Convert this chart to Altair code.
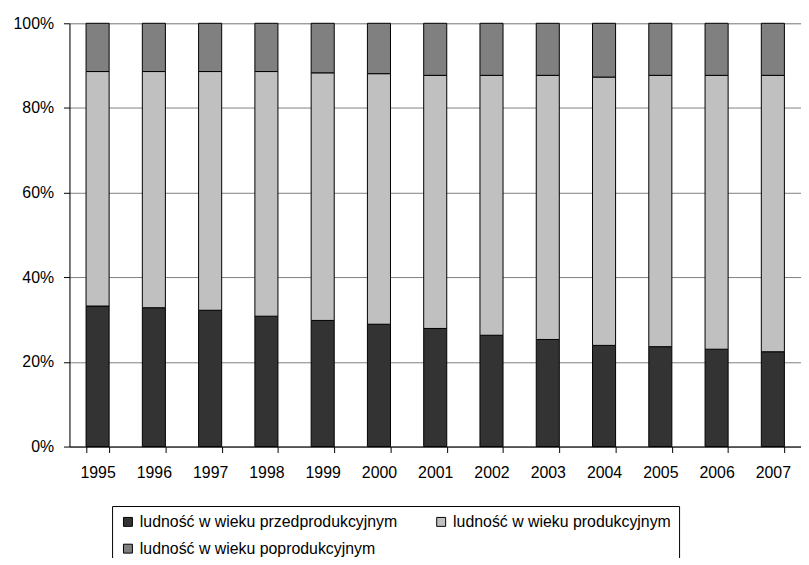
import altair as alt
import pandas as pd

years = ["1995", "1996", "1997", "1998", "1999", "2000", "2001",
         "2002", "2003", "2004", "2005", "2006", "2007"]
categories = ["ludność w wieku przedprodukcyjnym",
              "ludność w wieku produkcyjnym",
              "ludność w wieku poprodukcyjnym"]
przed = [33.2, 32.8, 32.2, 30.8, 29.8, 28.9, 27.9, 26.3, 25.3, 23.9, 23.6, 23.0, 22.4]
prod = [55.4, 55.8, 56.4, 57.8, 58.5, 59.2, 59.8, 61.4, 62.4, 63.4, 64.1, 64.7, 65.3]
poprod = [11.4, 11.4, 11.4, 11.4, 11.7, 11.9, 12.3, 12.3, 12.3, 12.7, 12.3, 12.3, 12.3]
colors = ["#333333", "#c0c0c0", "#808080"]

rows = []
for series_idx, (name, vals) in enumerate(zip(categories, [przed, prod, poprod])):
    for y, v in zip(years, vals):
        rows.append({"rok": y, "grupa": name, "udzial": v, "kolejnosc": series_idx})
df = pd.DataFrame(rows)

FONT = "Liberation Sans"

chart = alt.Chart(df).mark_bar(stroke="#000000", strokeWidth=1).encode(
    x=alt.X("rok:N", sort=years,
            scale=alt.Scale(paddingInner=0.59, paddingOuter=0.295),
            axis=alt.Axis(title=None, labelAngle=0, tickBand="extent",
                          domainColor="#000000", tickColor="#000000",
                          tickSize=6, labelPadding=12, labelFontSize=16,
                          labelFont=FONT, labelColor="#000000", grid=False)),
    y=alt.Y("udzial:Q", stack="normalize",
            scale=alt.Scale(domain=[0, 1]),
            axis=alt.Axis(title=None, format=".0%", values=[0, 0.2, 0.4, 0.6, 0.8, 1.0],
                          domainColor="#000000", tickColor="#000000", tickSize=6,
                          labelPadding=10, labelFontSize=16, labelFont=FONT,
                          labelColor="#000000", grid=True, gridColor="#808080",
                          gridWidth=1)),
    color=alt.Color("grupa:N", sort=categories,
                    scale=alt.Scale(domain=categories, range=colors),
                    legend=alt.Legend(title=None, orient="none", legendX=43, legendY=487,
                                      columns=2, direction="horizontal",
                                      symbolType="square", symbolSize=81,
                                      symbolStrokeColor="#000000", symbolStrokeWidth=1,
                                      labelFontSize=16, labelFont=FONT, labelColor="#000000",
                                      labelOffset=4, columnPadding=36, rowPadding=11,
                                      padding=8, strokeColor="#000000", fillColor="#ffffff",
                                      labelLimit=400)),
    order=alt.Order("kolejnosc:Q", sort="ascending"),
).properties(
    width=738,
    height=427,
    autosize=alt.AutoSizeParams(type="none"),
    padding={"left": 62, "top": 13, "right": 0, "bottom": 110},
).configure_view(
    stroke="#808080", strokeWidth=1
).configure(
    background="#ffffff"
)

chart.save("out.html", embed_options={"renderer": "svg", "actions": False})
